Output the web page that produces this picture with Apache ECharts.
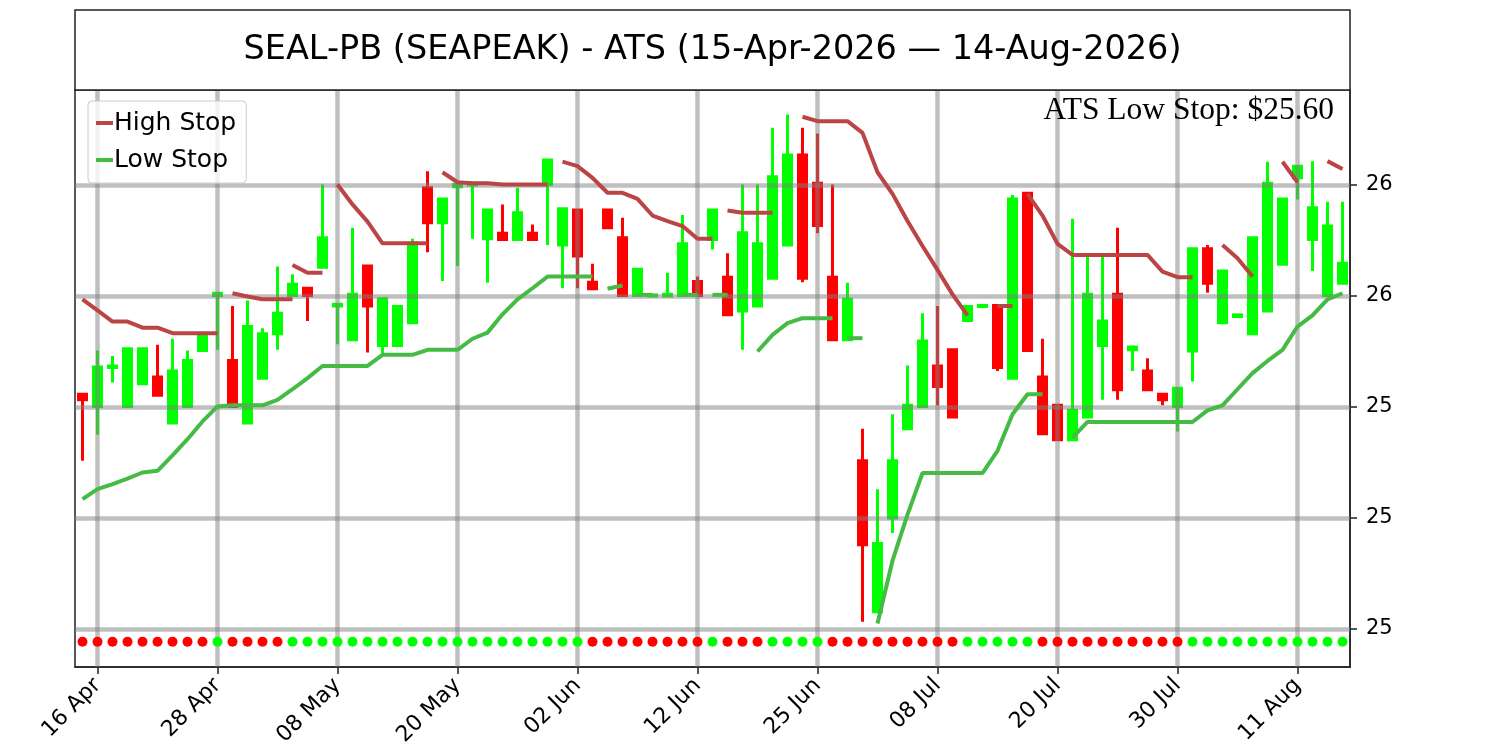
<!DOCTYPE html>
<html>
<head>
<meta charset="utf-8">
<script src="https://cdn.jsdelivr.net/npm/echarts@6/dist/echarts.min.js"></script>
<style>html,body{margin:0;padding:0;background:#fff;}#chart{width:1500px;height:750px;}</style>
</head>
<body>
<div id="chart"></div>
<script>
// ---- data ----
const dates = ['15 Apr','16 Apr','17 Apr','20 Apr','21 Apr','22 Apr','23 Apr','24 Apr','27 Apr','28 Apr','29 Apr','30 Apr',
'01 May','04 May','05 May','06 May','07 May','08 May','11 May','12 May','13 May','14 May','15 May','18 May','19 May','20 May','21 May','22 May','26 May','27 May','28 May','29 May',
'01 Jun','02 Jun','03 Jun','04 Jun','05 Jun','08 Jun','09 Jun','10 Jun','11 Jun','12 Jun','15 Jun','16 Jun','17 Jun','18 Jun','22 Jun','23 Jun','24 Jun','25 Jun','26 Jun','29 Jun','30 Jun',
'01 Jul','02 Jul','06 Jul','07 Jul','08 Jul','09 Jul','10 Jul','13 Jul','14 Jul','15 Jul','16 Jul','17 Jul','20 Jul','21 Jul','22 Jul','23 Jul','24 Jul','27 Jul','28 Jul','29 Jul','30 Jul','31 Jul',
'03 Aug','04 Aug','05 Aug','06 Aug','07 Aug','10 Aug','11 Aug','12 Aug','13 Aug','14 Aug'];

const opens = [25.423,25.401,25.471,25.401,25.442,25.454,25.371,25.401,25.502,25.601,
25.484,25.371,25.452,25.532,25.601,25.614,25.652,25.582,25.521,25.654,
25.511,25.511,25.552,25.795,25.732,25.797,25.800,25.703,25.713,25.702,
25.713,25.801,25.692,25.755,25.625,25.755,25.705,25.601,25.600,25.600,
25.601,25.626,25.702,25.634,25.573,25.582,25.632,25.692,25.854,25.803,
25.634,25.521,25.303,25.031,25.200,25.361,25.401,25.474,25.503,25.556,
25.581,25.583,25.452,25.785,25.454,25.403,25.341,25.382,25.511,25.603,
25.503,25.465,25.423,25.401,25.501,25.685,25.552,25.563,25.532,25.573,
25.657,25.813,25.702,25.601,25.623];

const closes = [25.413,25.472,25.474,25.505,25.505,25.421,25.465,25.484,25.529,25.605,
25.401,25.545,25.532,25.569,25.621,25.601,25.705,25.585,25.603,25.582,
25.595,25.581,25.695,25.732,25.775,25.801,25.803,25.755,25.702,25.750,
25.702,25.845,25.757,25.672,25.613,25.723,25.601,25.648,25.602,25.603,
25.694,25.601,25.755,25.566,25.714,25.694,25.815,25.854,25.632,25.727,
25.521,25.594,25.152,25.154,25.303,25.403,25.519,25.437,25.382,25.581,
25.583,25.471,25.775,25.502,25.352,25.341,25.394,25.603,25.555,25.431,
25.508,25.431,25.413,25.434,25.685,25.623,25.645,25.566,25.705,25.803,
25.775,25.834,25.759,25.726,25.659];

const lows = [25.303,25.350,25.444,25.401,25.442,25.421,25.371,25.401,25.502,25.503,
25.401,25.371,25.452,25.503,25.601,25.555,25.652,25.513,25.521,25.498,
25.492,25.511,25.552,25.679,25.627,25.654,25.703,25.624,25.702,25.702,
25.702,25.692,25.614,25.614,25.613,25.723,25.601,25.601,25.600,25.600,
25.601,25.601,25.684,25.566,25.503,25.582,25.632,25.692,25.625,25.713,
25.521,25.521,25.013,25.031,25.173,25.361,25.401,25.403,25.382,25.556,
25.581,25.465,25.452,25.502,25.352,25.341,25.341,25.382,25.413,25.413,
25.465,25.431,25.403,25.356,25.446,25.606,25.552,25.563,25.532,25.573,
25.657,25.774,25.645,25.601,25.623];

const highs = [25.423,25.502,25.492,25.505,25.505,25.512,25.523,25.502,25.533,25.605,
25.582,25.592,25.542,25.653,25.639,25.614,25.801,25.585,25.723,25.654,
25.595,25.581,25.703,25.825,25.775,25.801,25.803,25.755,25.765,25.795,
25.729,25.845,25.757,25.755,25.658,25.755,25.741,25.648,25.602,25.642,
25.746,25.635,25.755,25.677,25.801,25.801,25.903,25.927,25.903,25.893,
25.801,25.624,25.361,25.252,25.387,25.475,25.569,25.582,25.503,25.581,
25.583,25.583,25.782,25.785,25.523,25.403,25.739,25.672,25.672,25.723,
25.508,25.488,25.423,25.434,25.685,25.692,25.645,25.566,25.705,25.842,
25.775,25.834,25.843,25.770,25.770];

// trend per day: 1 = up (green dot), -1 = down (red dot)
const trend = [-1,-1,-1,-1,-1,-1,-1,-1,-1,1,
-1,-1,-1,-1,1,1,1,1,1,1,
1,1,1,1,1,1,1,1,1,1,
1,1,1,1,-1,-1,-1,-1,-1,-1,
-1,-1,1,-1,-1,-1,1,1,1,1,
-1,-1,-1,-1,-1,-1,-1,-1,-1,1,
1,1,1,1,-1,-1,-1,-1,-1,-1,
-1,-1,-1,-1,1,1,1,1,1,1,
1,1,1,1,1];

// stop-line segments: [start index, values]
const highStopSegments = [
  [0,  [25.594,25.574,25.554,25.554,25.543,25.543,25.533,25.533,25.533,25.533]],
  [10, [25.605,25.599,25.594,25.594,25.594]],
  [14, [25.656,25.642,25.642]],
  [17, [25.801,25.765,25.734,25.695,25.695,25.695,25.695]],
  [24, [25.823,25.805,25.803,25.803,25.801,25.801,25.801,25.801]],
  [32, [25.842,25.834,25.813,25.786,25.786,25.775,25.745,25.735,25.726,25.703,25.703]],
  [43, [25.754,25.750,25.750,25.750]],
  [48, [25.923,25.915,25.915,25.915,25.894,25.823,25.784,25.735,25.690,25.647,25.603,25.565]],
  [61, [25.582,25.582]],
  [63, [25.784,25.745,25.694,25.674,25.674,25.674,25.674,25.674,25.674,25.644,25.634,25.634]],
  [76, [25.692,25.668,25.635]],
  [80, [25.842,25.805]],
  [83, [25.843,25.829]]
];
const lowStopSegments = [
  [0,  [25.234,25.252,25.261,25.271,25.282,25.285,25.313,25.342,25.374,25.401,
        25.403,25.403,25.403,25.413,25.432,25.452,25.474,25.474,25.474,25.474,
        25.494,25.494,25.494,25.503,25.503,25.503,25.523,25.534,25.567,25.594,
        25.614,25.635,25.635,25.635,25.635]],
  [35, [25.613,25.619]],
  [37, [25.602,25.602]],
  [40, [25.602,25.602]],
  [42, [25.602,25.602]],
  [45, [25.500,25.530,25.551,25.560,25.560,25.560]],
  [51, [25.524,25.524]],
  [53, [25.010,25.123,25.206,25.281,25.281,25.281,25.281,25.281,25.321,25.387,25.423,25.423]],
  [66, [25.345,25.373,25.373,25.373,25.373,25.373,25.373,25.373,25.373,25.394,
        25.403,25.432,25.461,25.483,25.503,25.545,25.565,25.594,25.605]]
];

const yTicks = [25.0, 25.2, 25.4, 25.6, 25.8];
const dotLevel = 24.977;
const titleText = 'SEAL-PB (SEAPEAK) - ATS (15-Apr-2026 \u2014 14-Aug-2026)';
const stopText = 'ATS Low Stop: $25.60';

// ---- build ----
const labelEvery = (idx) => idx % 8 === 1;
const labelIdx = dates.map((d, i) => i).filter(labelEvery);

const HIGH_COLOR = '#bb4545';
const LOW_COLOR = '#45bb45';

function segSeries(name, color, segs) {
  return segs.map(([start, vals]) => ({
    type: 'line',
    name: name,
    color: color,
    data: dates.map((d, i) => (i >= start && i < start + vals.length) ? vals[i - start] : null),
    showSymbol: false,
    symbol: 'none',
    connectNulls: false,
    lineStyle: { color: color, width: 4 },
    itemStyle: { color: color },
    z: 4,
    silent: true
  }));
}

const candleData = dates.map((d, i) => [opens[i], closes[i], lows[i], highs[i]]);
const dotData = dates.map((d, i) => ({
  value: [i, dotLevel],
  itemStyle: { color: trend[i] > 0 ? '#00ff00' : '#ff0000', opacity: 1 }
}));

const chart = echarts.init(document.getElementById('chart'), null, { renderer: 'canvas' });
chart.setOption({
  animation: false,
  backgroundColor: '#ffffff',
  textStyle: { fontFamily: 'DejaVu Sans' },
  grid: {
    left: 75, right: 150, top: 90, bottom: 83,
    show: true, borderColor: '#222', borderWidth: 1.5, backgroundColor: '#fff'
  },
  legend: {
    data: ['High Stop', 'Low Stop'],
    orient: 'vertical',
    left: 88, top: 101,
    icon: 'rect',
    itemWidth: 17, itemHeight: 4,
    itemGap: 11,
    padding: [9, 10, 10, 8],
    backgroundColor: 'rgba(255,255,255,0.8)',
    borderColor: '#cccccc', borderWidth: 1, borderRadius: 4,
    textStyle: { fontSize: 25, lineHeight: 26, color: '#000', fontFamily: 'DejaVu Sans', padding: [0, 0, 0, -4] },
    selectedMode: false
  },
  xAxis: {
    type: 'category',
    data: dates,
    boundaryGap: true,
    axisLine: { show: true, lineStyle: { color: '#222', width: 1.5 } },
    axisTick: { show: true, alignWithLabel: true, interval: labelEvery, length: 7, lineStyle: { color: '#222', width: 1.5 } },
    axisLabel: { interval: labelEvery, rotate: 45, fontSize: 22, color: '#000', fontFamily: 'DejaVu Sans', margin: 15 },
    splitLine: { show: false }
  },
  yAxis: {
    type: 'value',
    position: 'right',
    min: 24.9315, max: 25.9712,
    axisLine: { show: true, lineStyle: { color: '#222', width: 1.5 } },
    axisTick: { show: true, length: 7, customValues: yTicks, lineStyle: { color: '#222', width: 1.5 } },
    axisLabel: { customValues: yTicks, formatter: (v) => String(Math.round(v)), fontSize: 21, color: '#000', fontFamily: 'DejaVu Sans', margin: 16 },
    splitLine: { show: false }
  },
  graphic: [
    { type: 'rect', shape: { x: 75, y: 10, width: 1275, height: 80 }, style: { fill: '#fff', stroke: '#222', lineWidth: 1.5 }, z: 10 },
    { type: 'text', x: 712.5, y: 50, style: { text: titleText, fill: '#000', font: '33.5px "DejaVu Sans"', textAlign: 'center', textVerticalAlign: 'middle' }, z: 11 },
    { type: 'text', x: 1334, y: 111, style: { text: stopText, fill: '#000', font: '31.5px "Liberation Serif"', textAlign: 'right', textVerticalAlign: 'middle' }, z: 11 }
  ],
  series: [
    {
      type: 'candlestick',
      data: candleData,
      barWidth: 8,
      z: 2,
      silent: true,
      itemStyle: { color: '#00ff00', color0: '#ff0000', borderColor: '#00ff00', borderColor0: '#ff0000', borderWidth: 3 }
    },
    {
      type: 'line',
      data: [],
      silent: true,
      z: 3,
      markLine: {
        silent: true,
        z: 3,
        symbol: ['none', 'none'],
        label: { show: false },
        emphasis: { disabled: true },
        lineStyle: { color: 'rgba(128,128,128,0.5)', width: 4.5, type: 'solid' },
        data: yTicks.map(v => ({ yAxis: v })).concat(labelIdx.map(i => ({ xAxis: dates[i] })))
      }
    },
    ...segSeries('High Stop', HIGH_COLOR, highStopSegments),
    ...segSeries('Low Stop', LOW_COLOR, lowStopSegments),
    {
      type: 'scatter',
      data: dotData,
      symbol: 'circle',
      symbolSize: 10,
      z: 5,
      silent: true,
      itemStyle: { opacity: 1 }
    }
  ]
});
</script>
</body>
</html>
